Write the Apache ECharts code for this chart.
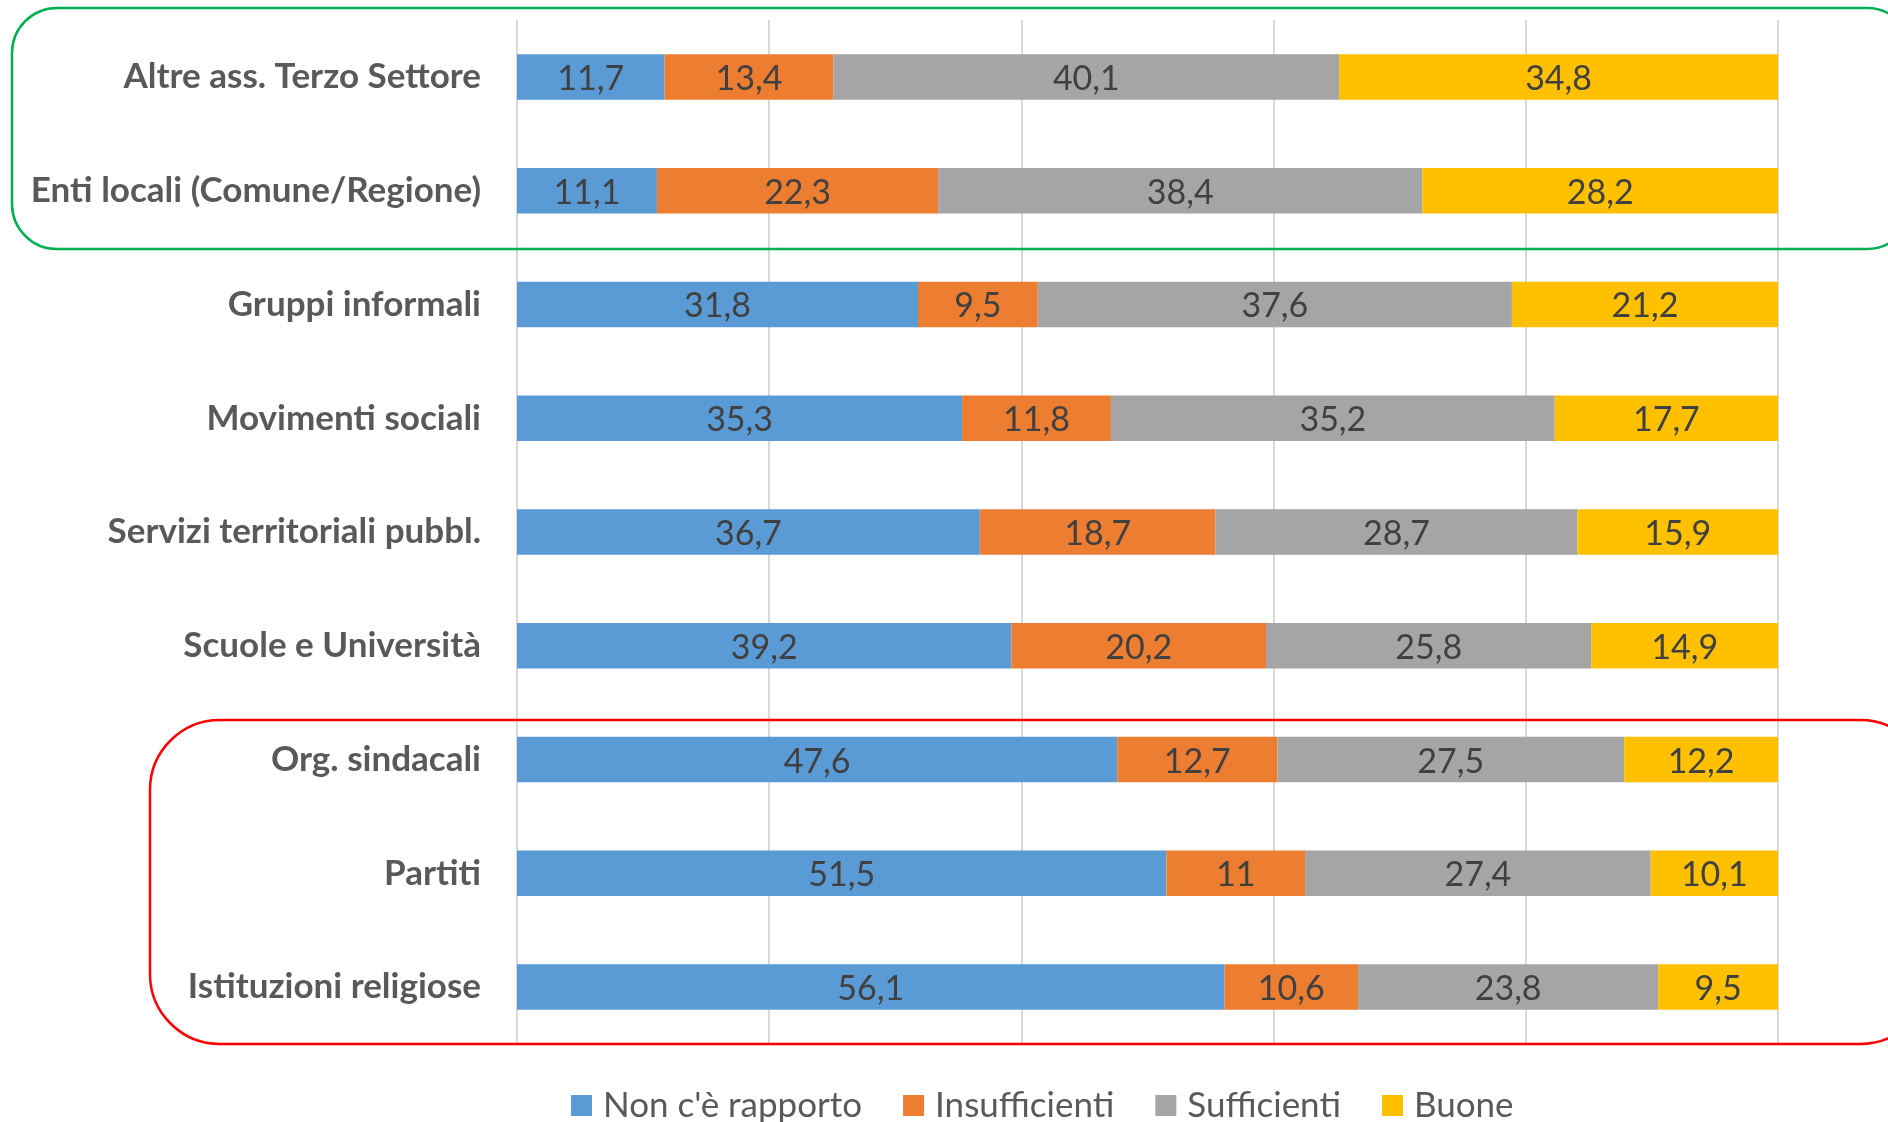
<!DOCTYPE html>
<html>
<head>
<meta charset="utf-8">
<script src="https://cdn.jsdelivr.net/npm/echarts@6/dist/echarts.min.js"></script>
<style>html,body{margin:0;padding:0;background:#fff}#c{width:1888px;height:1122px}</style>
</head>
<body>
<div id="c"></div>
<script>
const categories = ['Altre ass. Terzo Settore','Enti locali (Comune/Regione)','Gruppi informali','Movimenti sociali','Servizi territoriali pubbl.','Scuole e Università','Org. sindacali','Partiti','Istituzioni religiose'];
const seriesNames = ["Non c'è rapporto",'Insufficienti','Sufficienti','Buone'];
const nonRapporto = [11.7, 11.1, 31.8, 35.3, 36.7, 39.2, 47.6, 51.5, 56.1];
const insufficienti = [13.4, 22.3, 9.5, 11.8, 18.7, 20.2, 12.7, 11, 10.6];
const sufficienti = [40.1, 38.4, 37.6, 35.2, 28.7, 25.8, 27.5, 27.4, 23.8];
const buone = [34.8, 28.2, 21.2, 17.7, 15.9, 14.9, 12.2, 10.1, 9.5];
const colors = ['#5B9BD5','#ED7D31','#A5A5A5','#FFC000'];
const FONT = 'Lato, "Open Sans", sans-serif';

const chart = echarts.init(document.getElementById('c'));
const mk = (name, data, color) => ({
  name, type: 'bar', stack: 'tot', data, barWidth: '40%',
  itemStyle: { color },
  label: { show: true, position: 'inside', color: '#404040', fontFamily: FONT, fontSize: 34,
    offset: [0, 2],
    formatter: p => String(p.value).replace('.', ',') }
});
chart.setOption({
  animation: false,
  color: colors,
  grid: { left: 517, right: 110, top: 20, bottom: 78, containLabel: false },
  xAxis: { type: 'value', min: 0, max: 100, interval: 20,
    axisLabel: { show: false }, axisLine: { show: false }, axisTick: { show: false },
    splitLine: { lineStyle: { color: '#D9D9D9', width: 2 } } },
  yAxis: { type: 'category', data: categories, inverse: true,
    axisLine: { show: false }, axisTick: { show: false },
    axisLabel: { color: '#595959', fontWeight: 'bold', fontSize: 35, fontFamily: FONT, margin: 36 } },
  legend: { left: 566, top: 1083, itemWidth: 21, itemHeight: 21, itemGap: 41,
    icon: 'rect', data: seriesNames,
    textStyle: { color: '#595959', fontSize: 35, fontFamily: FONT, padding: [0,0,0,6] } },
  graphic: [
    { type: 'rect', shape: { x: 12, y: 8, width: 1900, height: 241, r: 45 },
      style: { fill: 'none', stroke: '#00B050', lineWidth: 2.5 }, z: 100 },
    { type: 'rect', shape: { x: 150, y: 720, width: 1780, height: 324, r: 70 },
      style: { fill: 'none', stroke: '#FF0000', lineWidth: 2.5 }, z: 100 }
  ],
  series: [
    mk(seriesNames[0], nonRapporto, colors[0]),
    mk(seriesNames[1], insufficienti, colors[1]),
    mk(seriesNames[2], sufficienti, colors[2]),
    mk(seriesNames[3], buone, colors[3])
  ]
});
</script>
</body>
</html>
